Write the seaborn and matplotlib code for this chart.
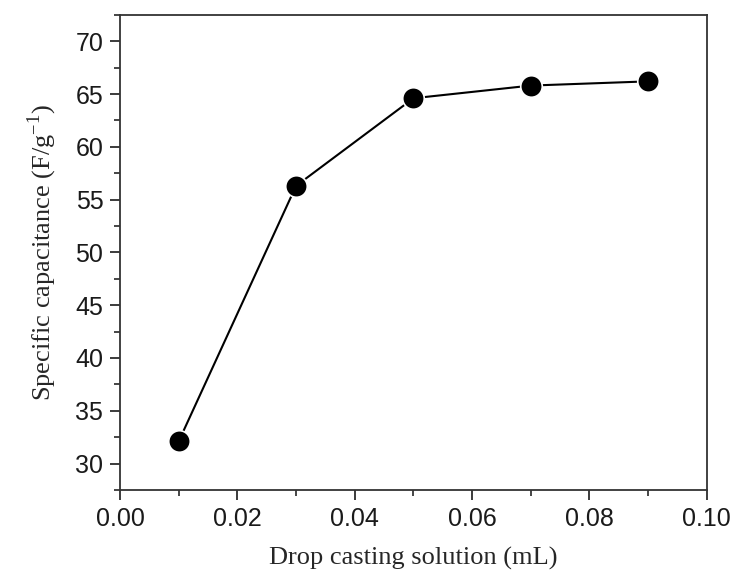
import numpy as np
import pandas as pd
import seaborn as sns
import matplotlib.pyplot as plt
from matplotlib.ticker import MultipleLocator

# data
volume_ml = [0.01, 0.03, 0.05, 0.07, 0.09]
capacitance = [32.1, 56.3, 64.6, 65.8, 66.2]

df = pd.DataFrame({"volume": volume_ml, "capacitance": capacitance})

sns.set_style("ticks")
plt.rcParams["font.family"] = ["Liberation Sans", "DejaVu Sans"]
plt.rcParams["mathtext.fontset"] = "custom"
plt.rcParams["mathtext.rm"] = "Liberation Serif"

fig = plt.figure(figsize=(7.34, 5.71), dpi=100)
ax = fig.add_axes([0.1635, 0.142, 0.7995, 0.832])

sns.lineplot(data=df, x="volume", y="capacitance", ax=ax, color="black",
             linewidth=1.5, marker="o", markersize=15.5,
             markeredgecolor="white", markeredgewidth=1.2)

ax.set_xlim(0.0, 0.10)
ax.set_ylim(27.5, 72.5)
ax.xaxis.set_major_locator(MultipleLocator(0.02))
ax.xaxis.set_minor_locator(MultipleLocator(0.01))
ax.yaxis.set_major_locator(MultipleLocator(5))
ax.yaxis.set_minor_locator(MultipleLocator(2.5))
ax.xaxis.set_major_formatter(plt.FormatStrFormatter("%.2f"))

ax.tick_params(which="major", direction="out", length=7, width=1.2,
               labelsize=18, colors="#1a1a1a", pad=5)
ax.tick_params(which="minor", direction="out", length=4, width=1.2)
for side in ["top", "right", "left", "bottom"]:
    ax.spines[side].set_visible(True)
    ax.spines[side].set_linewidth(1.3)
    ax.spines[side].set_color("#333333")

ax.set_xlabel("Drop casting solution (mL)", family=["Liberation Serif"],
              fontsize=19, labelpad=12)
ax.set_ylabel("Specific capacitance (F/g$^{\\mathrm{-1}}$)", family=["Liberation Serif"],
              fontsize=19, labelpad=12)

fig.savefig("out.png", dpi=100)
